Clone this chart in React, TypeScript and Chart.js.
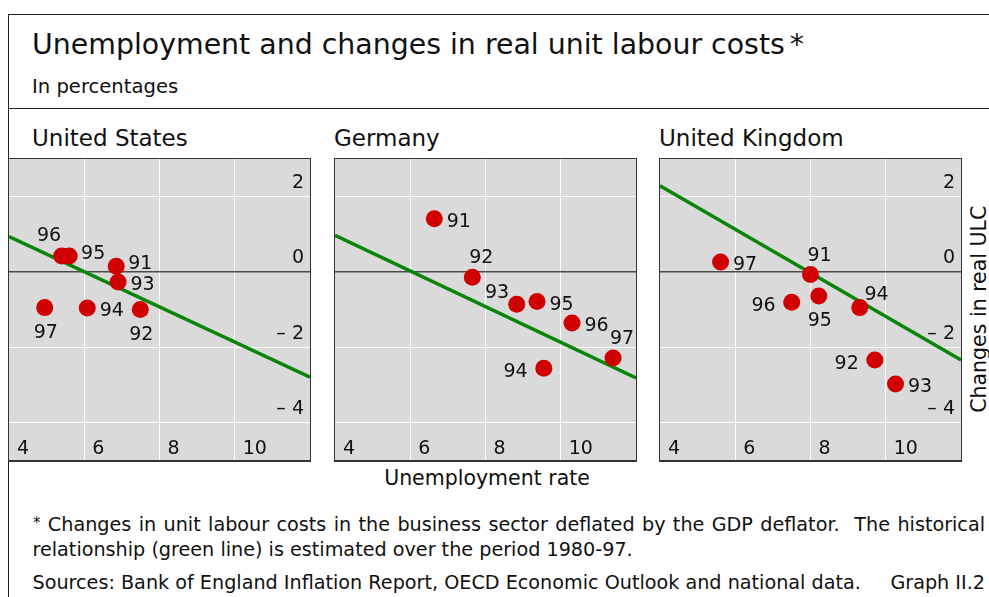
import React, { useEffect, useRef } from "react";
import { Chart, registerables } from "chart.js";

Chart.register(...registerables);

// ---------- data ----------
const YEARS = ["91", "92", "93", "94", "95", "96", "97"];

const US_UNEMP = [6.85, 7.49, 6.9, 6.08, 5.6, 5.4, 4.95];
const US_ULC = [0.15, -1.0, -0.27, -0.96, 0.42, 0.42, -0.95];
const US_LABEL_SIDE = ["rt", "b", "r", "r", "rt", "tl", "b"];

const DE_UNEMP = [6.64, 7.65, 8.83, 9.55, 9.37, 10.3, 11.39];
const DE_ULC = [1.41, -0.14, -0.86, -2.56, -0.79, -1.36, -2.29];
const DE_LABEL_SIDE = ["r", "t", "ul", "l", "r", "r", "t"];

const UK_UNEMP = [8.0, 9.71, 10.26, 9.31, 8.22, 7.5, 5.61];
const UK_ULC = [-0.07, -2.34, -2.98, -0.95, -0.64, -0.81, 0.26];
const UK_LABEL_SIDE = ["t", "l", "r", "tr", "b", "l", "r"];

// historical relationship (green line), end points at x-axis limits
const LINE_X = [4, 12];
const US_LINE_Y = [0.94, -2.8];
const DE_LINE_Y = [0.97, -2.82];
const UK_LINE_Y = [2.29, -2.34];

const X_TICKS = [4, 6, 8, 10];
const X_TICK_LABELS = ["4", "6", "8", "10"];
const Y_TICKS = [2, 0, -2, -4];
const Y_TICK_LABELS = ["2", "0", "\u2013 2", "\u2013 4"];

// ---------- styles ----------
const FONT = '"DejaVu Sans", sans-serif';
const RED = "#d10000";
const GREEN = "#0a850a";
const PANEL_BG = "#dadada";
const INK = "#111";

const LABEL_OFFSETS: Record<string, [number, number]> = {
  r: [24.5, 1],
  rt: [24, -4.5],
  l: [-28.2, 1.7],
  t: [9, -21],
  b: [1, 23],
  tl: [-12.7, -21.7],
  ul: [-19.7, -13.3],
  tr: [16.7, -14.6],
};

type PanelSpec = {
  unemp: number[];
  ulc: number[];
  sides: string[];
  lineY: number[];
  showY: boolean;
};

const tickLabelPlugin = (showY: boolean) => ({
  id: "tickLabels",
  afterDraw(chart: any) {
    const { ctx, chartArea, scales } = chart;
    ctx.save();
    ctx.font = `19px ${FONT}`;
    ctx.fillStyle = INK;
    ctx.textBaseline = "alphabetic";
    ctx.textAlign = "left";
    scales.x.ticks.forEach((t: any) => {
      const i = X_TICKS.indexOf(t.value);
      if (i < 0) return;
      const px = scales.x.getPixelForValue(t.value);
      ctx.fillText(X_TICK_LABELS[i], px + 8, chartArea.bottom - 6);
    });
    if (showY) {
      ctx.textAlign = "right";
      scales.y.ticks.forEach((t: any) => {
        const i = Y_TICKS.indexOf(t.value);
        if (i < 0) return;
        const py = scales.y.getPixelForValue(t.value);
        ctx.fillText(Y_TICK_LABELS[i], chartArea.right - 6, py - 8.5);
      });
    }
    ctx.restore();
  },
});

const pointLabelPlugin = (sides: string[]) => ({
  id: "pointLabels",
  afterDatasetsDraw(chart: any) {
    const { ctx } = chart;
    const meta = chart.getDatasetMeta(1);
    ctx.save();
    ctx.font = `19px ${FONT}`;
    ctx.fillStyle = INK;
    ctx.textAlign = "center";
    ctx.textBaseline = "alphabetic";
    meta.data.forEach((el: any, i: number) => {
      const [dx, dy] = LABEL_OFFSETS[sides[i]] || [24, 1];
      ctx.fillText(YEARS[i], el.x + dx, el.y + dy + 7);
    });
    ctx.restore();
  },
});

function Panel({ spec }: { spec: PanelSpec }) {
  const ref = useRef<HTMLCanvasElement | null>(null);
  useEffect(() => {
    if (!ref.current) return;
    const chart = new Chart(ref.current, {
      type: "scatter",
      data: {
        datasets: [
          {
            type: "line",
            data: LINE_X.map((x, i) => ({ x, y: spec.lineY[i] })),
            borderColor: GREEN,
            borderWidth: 3.5,
            pointRadius: 0,
            order: 2,
          } as any,
          {
            type: "scatter",
            data: spec.unemp.map((x, i) => ({ x, y: spec.ulc[i] })),
            backgroundColor: RED,
            borderWidth: 0,
            pointRadius: 8.5,
            order: 1,
            clip: false,
          } as any,
        ],
      },
      options: {
        animation: false,
        responsive: false,
        devicePixelRatio: 1,
        events: [],
        layout: { padding: 0, autoPadding: false },
        plugins: { legend: { display: false }, tooltip: { enabled: false } },
        scales: {
          x: {
            type: "linear",
            min: 4,
            max: 12,
            afterBuildTicks: (s: any) => {
              s.ticks = X_TICKS.map((v) => ({ value: v }));
            },
            afterFit: (s: any) => {
              s.height = 0;
            },
            ticks: { display: false },
            grid: {
              drawTicks: false,
              lineWidth: 1,
              color: (c: any) => (c.tick && c.tick.value === 4 ? "rgba(0,0,0,0)" : "#ffffff"),
            },
            border: { display: false },
          },
          y: {
            type: "linear",
            position: "right",
            min: -5,
            max: 3,
            afterBuildTicks: (s: any) => {
              s.ticks = Y_TICKS.map((v) => ({ value: v }));
            },
            afterFit: (s: any) => {
              s.width = 0;
            },
            ticks: { display: false },
            grid: {
              drawTicks: false,
              lineWidth: (c: any) => (c.tick && c.tick.value === 0 ? 1.5 : 1),
              color: (c: any) => (c.tick && c.tick.value === 0 ? "#4a4a4a" : "#ffffff"),
            },
            border: { display: false },
          },
        },
      } as any,
      plugins: [tickLabelPlugin(spec.showY), pointLabelPlugin(spec.sides)],
    });
    return () => chart.destroy();
  }, [spec]);
  return (
    <canvas
      ref={ref}
      width={301}
      height={301}
      style={{ display: "block", width: 301, height: 301, background: PANEL_BG }}
    />
  );
}

const PANELS: { title: string; left: number; spec: PanelSpec }[] = [
  { title: "United States", left: 8, spec: { unemp: US_UNEMP, ulc: US_ULC, sides: US_LABEL_SIDE, lineY: US_LINE_Y, showY: true } },
  { title: "Germany", left: 334, spec: { unemp: DE_UNEMP, ulc: DE_ULC, sides: DE_LABEL_SIDE, lineY: DE_LINE_Y, showY: false } },
  { title: "United Kingdom", left: 659, spec: { unemp: UK_UNEMP, ulc: UK_ULC, sides: UK_LABEL_SIDE, lineY: UK_LINE_Y, showY: true } },
];

const PANEL_TITLE_LEFT = [32, 334, 659];

function Text({
  children,
  left,
  baseline,
  size,
  style,
}: {
  children: React.ReactNode;
  left: number;
  baseline: number;
  size: number;
  style?: React.CSSProperties;
}) {
  return (
    <div
      style={{
        position: "absolute",
        left,
        top: baseline - 0.846 * size,
        fontSize: size,
        lineHeight: 1,
        fontFamily: FONT,
        color: INK,
        whiteSpace: "nowrap",
        ...style,
      }}
    >
      {children}
    </div>
  );
}

export default function App() {
  useEffect(() => {
    document.documentElement.style.overflow = "hidden";
    document.body.style.overflow = "hidden";
  }, []);
  return (
    <div
      style={{
        position: "absolute",
        left: 0,
        top: 0,
        width: 989,
        height: 597,
        overflow: "hidden",
        background: "#fff",
        fontFamily: FONT,
      }}
    >
      {/* frame */}
      <div
        style={{
          position: "absolute",
          left: 8,
          top: 14,
          width: 1200,
          height: 800,
          borderLeft: "1px solid #222",
          borderTop: "1px solid #222",
        }}
      />
      <div style={{ position: "absolute", left: 8, top: 108, width: 1200, height: 0, borderTop: "1px solid #222" }} />

      <Text left={32} baseline={55} size={28.4}>
        Unemployment and changes in real unit labour costs
        <span style={{ marginLeft: 5 }}>*</span>
      </Text>
      <Text left={32} baseline={93.3} size={19.6}>
        In percentages
      </Text>

      {PANELS.map((p, i) => (
        <React.Fragment key={p.title}>
          <Text left={PANEL_TITLE_LEFT[i]} baseline={146.7} size={23}>
            {p.title}
          </Text>
          <div
            style={{
              position: "absolute",
              left: p.left,
              top: 158,
              border: "1px solid #333",
              borderBottom: "2px solid #333",
            }}
          >
            <Panel spec={p.spec} />
          </div>
        </React.Fragment>
      ))}

      {/* right axis title */}
      <div
        style={{
          position: "absolute",
          left: 978.5 - 130,
          top: 309.5 - 10.25,
          width: 260,
          height: 20.5,
          fontSize: 20.5,
          lineHeight: "20.5px",
          textAlign: "center",
          fontFamily: FONT,
          color: INK,
          whiteSpace: "nowrap",
          transform: "rotate(-90deg)",
          transformOrigin: "50% 50%",
        }}
      >
        Changes in real ULC
      </div>

      <Text left={0} baseline={485.7} size={20.5} style={{ width: 974, textAlign: "center" }}>
        Unemployment rate
      </Text>

      <Text
        left={33}
        baseline={531.5}
        size={19.2}
        style={{ width: 952, whiteSpace: "normal", textAlign: "justify", textAlignLast: "justify" as any }}
      >
        <span style={{ fontSize: 15, verticalAlign: "top", position: "relative", top: 1 }}>*</span> Changes in unit labour costs
        in the business sector deflated by the GDP deflator.&nbsp; The historical
      </Text>
      <Text left={32.5} baseline={556.7} size={19.2}>
        relationship (green line) is estimated over the period 1980-97.
      </Text>
      <Text left={32.5} baseline={589.3} size={19.2}>
        Sources: Bank of England Inflation Report, OECD Economic Outlook and national data.
      </Text>
      <Text left={800} baseline={589.3} size={19.2} style={{ width: 185, textAlign: "right" }}>
        Graph II.2
      </Text>
    </div>
  );
}
